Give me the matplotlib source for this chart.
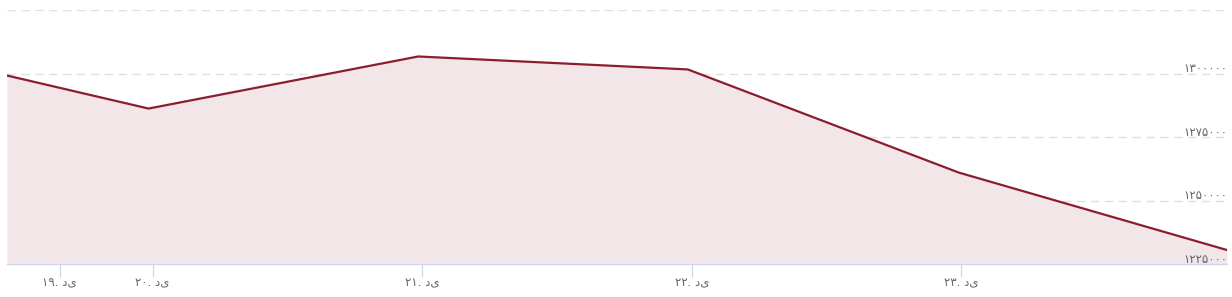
import numpy as np
import matplotlib.pyplot as plt

plt.rcParams['font.family'] = ['DejaVu Sans']

# data (x in days of month Dey)
days = [19.46, 19.985, 20.985, 21.985, 22.99, 23.985]
prices = [1299200, 1286200, 1306700, 1301600, 1261000, 1230500]

tick_pos = [19.655, 20, 21, 22, 23]
tick_labels = ['۱۹. دی', '۲۰. دی', '۲۱. دی', '۲۲. دی', '۲۳. دی']

y_vals = [1250000, 1275000, 1300000, 1325000]
y_labels = ['۱۲۵۰۰۰۰', '۱۲۷۵۰۰۰', '۱۳۰۰۰۰۰', '']
y_min = 1225000
y_min_label = '۱۲۲۵۰۰۰'

line_color = '#8b1e2e'
fill_color = '#f2e6e8'

fig = plt.figure(figsize=(12.32, 2.97), dpi=100)
ax = fig.add_axes([7/1232, 33/297, 1220/1232, 254/297])

ax.fill_between(days, prices, y_min, color=fill_color, lw=0)
ax.plot(days, prices, color=line_color, lw=1.6)

ax.set_xlim(days[0], days[-1])
ax.set_ylim(y_min, 1325000)

for v in y_vals:
    ax.axhline(v, color='#e0e0e0', lw=1, ls=(0, (6, 4)), zorder=0)

# y labels inside the plot on the right
for v, lab in zip(y_vals + [y_min], y_labels + [y_min_label]):
    if lab:
        ax.text(days[-1], v - 600, lab, ha='right', va='bottom',
                fontsize=8.5, color='#666666')

for s in ['top', 'right', 'left']:
    ax.spines[s].set_visible(False)
ax.spines['bottom'].set_color('#ccd6eb')

ax.set_yticks([])
ax.set_xticks(tick_pos)
ax.set_xticklabels(tick_labels, fontsize=8.5, color='#666666')
ax.tick_params(axis='x', length=9, color='#ccd6eb', pad=0)

fig.savefig('out.png', dpi=100)
